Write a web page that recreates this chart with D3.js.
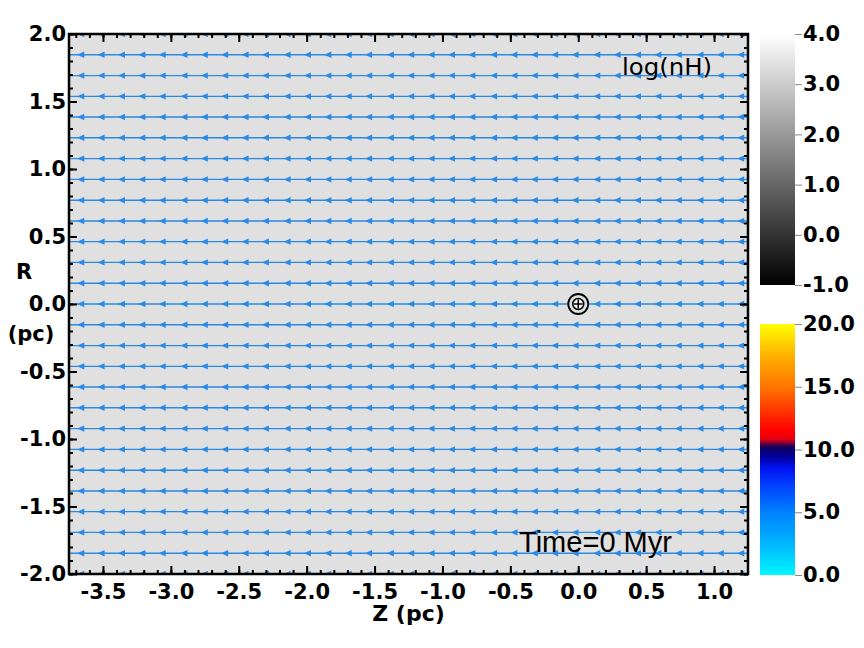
<!DOCTYPE html>
<html>
<head>
<meta charset="utf-8">
<script src="https://cdn.jsdelivr.net/npm/d3@7"></script>
<style>
  html, body { margin: 0; padding: 0; background: #ffffff; }
  svg { display: block; }
</style>
</head>
<body>
<svg id="chart" width="864" height="648"></svg>
<script>
// ---------------- data ----------------
const xDomain = [-3.75, 1.25];
const yDomain = [-2.0, 2.0];
const xTicks = [-3.5, -3.0, -2.5, -2.0, -1.5, -1.0, -0.5, 0.0, 0.5, 1.0];
const xTickLabels = ["-3.5", "-3.0", "-2.5", "-2.0", "-1.5", "-1.0", "-0.5", "0.0", "0.5", "1.0"];
const yTicks = [-2.0, -1.5, -1.0, -0.5, 0.0, 0.5, 1.0, 1.5, 2.0];
const yTickLabels = ["-2.0", "-1.5", "-1.0", "-0.5", "0.0", "0.5", "1.0", "1.5", "2.0"];
// streamline heights (R, pc)
const streamR = [-2.000, -1.846, -1.692, -1.538, -1.385, -1.231, -1.077, -0.923, -0.769,
                 -0.615, -0.462, -0.308, -0.154, 0.000, 0.154, 0.308, 0.462, 0.615,
                 0.769, 0.923, 1.077, 1.231, 1.385, 1.538, 1.692, 1.846, 2.000];
// arrow head positions along each streamline (Z, pc)
const arrowZ = [1.20, 1.05, 0.90, 0.74, 0.59, 0.44, 0.29, 0.14, -0.02, -0.17, -0.32,
                -0.47, -0.62, -0.78, -0.93, -1.08, -1.23, -1.38, -1.54, -1.69, -1.84,
                -1.99, -2.14, -2.30, -2.45, -2.60, -2.75, -2.90, -3.06, -3.21, -3.36,
                -3.51, -3.66];
const sourcePos = [0.0, 0.0];
const densityDomain = [-1.0, 4.0];
const densityTicks = [4.0, 3.0, 2.0, 1.0, 0.0, -1.0];
const densityTickLabels = ["4.0", "3.0", "2.0", "1.0", "0.0", "-1.0"];
const speedDomain = [0.0, 20.0];
const speedTicks = [20.0, 15.0, 10.0, 5.0, 0.0];
const speedTickLabels = ["20.0", "15.0", "10.0", "5.0", "0.0"];
const speedStops = [0, 3, 5, 7, 8.5, 9.5, 10.2, 10.8, 11.5, 13, 15, 17.5, 20];
const speedColors = ["#00f6ff", "#00aaff", "#0082ff", "#0044ff", "#0012f2", "#000095",
                     "#12005c", "#e00012", "#ff0000", "#ff3300", "#ff7600", "#ffb200", "#ffff00"];
const fieldLabel = "log(nH)";
const timeLabel = "Time=0 Myr";

// ---------------- layout ----------------
const svg = d3.select("#chart");
const L = 69, R = 748, T = 34, B = 574;
const x = d3.scaleLinear().domain(xDomain).range([L, R]);
const y = d3.scaleLinear().domain(yDomain).range([B, T]);
const grayScale = d3.scaleLinear().domain(densityDomain).range(["#000000", "#ffffff"]);
const defs = svg.append("defs");

defs.append("clipPath").attr("id", "plotClip")
  .append("rect").attr("x", L).attr("y", T).attr("width", R - L).attr("height", B - T);

// background field
svg.append("rect").attr("x", L).attr("y", T).attr("width", R - L).attr("height", B - T)
  .attr("fill", "#e0e0e0");

// streamlines
const blue = "#2a8ae6";
const g = svg.append("g").attr("clip-path", "url(#plotClip)");
g.selectAll("line.stream").data(streamR).join("line")
  .attr("class", "stream")
  .attr("x1", x(xDomain[0])).attr("x2", x(xDomain[1]))
  .attr("y1", d => y(d)).attr("y2", d => y(d))
  .attr("stroke", blue).attr("stroke-width", 1.4);

const arrowData = [];
streamR.forEach(r => arrowZ.forEach(z => arrowData.push([z, r])));
g.selectAll("path.arrow").data(arrowData).join("path")
  .attr("class", "arrow")
  .attr("d", d => {
    const cx = x(d[0]), cy = y(d[1]);
    return `M${cx - 4},${cy} L${cx + 3},${cy - 3.2} L${cx + 3},${cy + 3.2} Z`;
  })
  .attr("fill", blue);

// source marker
const sx = x(sourcePos[0]), sy = y(sourcePos[1]);
svg.append("circle").attr("cx", sx).attr("cy", sy).attr("r", 10)
  .attr("fill", "#e0e0e0").attr("stroke", "#000").attr("stroke-width", 1.8);
svg.append("circle").attr("cx", sx).attr("cy", sy).attr("r", 5.5)
  .attr("fill", "#f4f4f4").attr("stroke", "#000").attr("stroke-width", 1.5);
svg.append("path").attr("d", `M${sx - 4.5},${sy} H${sx + 4.5} M${sx},${sy - 4.5} V${sy + 4.5}`)
  .attr("stroke", "#000").attr("stroke-width", 1.5);

// ticks (inward, all sides)
const fontBold = "'DejaVu Sans', sans-serif";
function minorTicks(domain) {
  const out = [];
  for (let v = Math.ceil(domain[0] * 10); v <= Math.floor(domain[1] * 10); v++) out.push(v / 10);
  return out;
}
const xMinor = minorTicks(xDomain);
const yMinor = minorTicks(yDomain);

function styleAxis(sel) {
  sel.select(".domain").remove();
  sel.selectAll(".tick line").attr("stroke", "#000").attr("stroke-width", 2);
}
function styleLabels(s, size) {
  s.selectAll("text").attr("font-family", fontBold).attr("font-weight", "bold")
    .attr("font-size", size).attr("fill", "#000");
}

// bottom
svg.append("g").attr("transform", `translate(0,${B})`)
  .call(d3.axisBottom(x).tickValues(xMinor).tickSizeInner(-4).tickFormat(""))
  .call(styleAxis);
svg.append("g").attr("transform", `translate(0,${B})`)
  .call(d3.axisBottom(x).tickValues(xTicks).tickSizeInner(-8).tickPadding(10)
    .tickFormat((d, i) => xTickLabels[i]))
  .call(styleAxis)
  .call(s => styleLabels(s, 21));
// top
svg.append("g").attr("transform", `translate(0,${T})`)
  .call(d3.axisTop(x).tickValues(xMinor).tickSizeInner(-4).tickFormat(""))
  .call(styleAxis);
svg.append("g").attr("transform", `translate(0,${T})`)
  .call(d3.axisTop(x).tickValues(xTicks).tickSizeInner(-8).tickFormat(""))
  .call(styleAxis);
// left
svg.append("g").attr("transform", `translate(${L},0)`)
  .call(d3.axisLeft(y).tickValues(yMinor).tickSizeInner(-4).tickFormat(""))
  .call(styleAxis);
svg.append("g").attr("transform", `translate(${L},0)`)
  .call(d3.axisLeft(y).tickValues(yTicks).tickSizeInner(-8).tickPadding(3)
    .tickFormat((d, i) => yTickLabels[i]))
  .call(styleAxis)
  .call(s => styleLabels(s, 21));
// right
svg.append("g").attr("transform", `translate(${R},0)`)
  .call(d3.axisRight(y).tickValues(yMinor).tickSizeInner(-4).tickFormat(""))
  .call(styleAxis);
svg.append("g").attr("transform", `translate(${R},0)`)
  .call(d3.axisRight(y).tickValues(yTicks).tickSizeInner(-8).tickFormat(""))
  .call(styleAxis);

// frame
svg.append("rect").attr("x", L).attr("y", T).attr("width", R - L).attr("height", B - T)
  .attr("fill", "none").attr("stroke", "#000").attr("stroke-width", 2.5);

// axis titles
svg.append("text").attr("x", (L + R) / 2).attr("y", 621).attr("text-anchor", "middle")
  .attr("font-family", fontBold).attr("font-weight", "bold").attr("font-size", 22)
  .text("Z (pc)");
svg.append("text").attr("x", 24).attr("y", 279).attr("text-anchor", "middle")
  .attr("font-family", fontBold).attr("font-weight", "bold").attr("font-size", 21)
  .text("R");
svg.append("text").attr("x", 31).attr("y", 341).attr("text-anchor", "middle")
  .attr("font-family", fontBold).attr("font-weight", "bold").attr("font-size", 21)
  .text("(pc)");

// in-plot labels
svg.append("text").attr("x", 622).attr("y", 75)
  .attr("font-family", "'DejaVu Sans', sans-serif").attr("font-size", 23)
  .attr("textLength", 90).attr("lengthAdjust", "spacingAndGlyphs")
  .text(fieldLabel);
svg.append("text").attr("x", 519).attr("y", 552)
  .attr("font-family", "'Liberation Sans', sans-serif").attr("font-size", 30)
  .attr("textLength", 153).attr("lengthAdjust", "spacingAndGlyphs")
  .text(timeLabel);

// ---------------- colorbars ----------------
const cbX = 760, cbW = 35;
// density colorbar
const yd = d3.scaleLinear().domain(densityDomain).range([285, 34]);
const gradGray = defs.append("linearGradient").attr("id", "gradGray")
  .attr("x1", 0).attr("y1", 1).attr("x2", 0).attr("y2", 0);
gradGray.selectAll("stop").data(densityDomain).join("stop")
  .attr("offset", (d, i) => i)
  .attr("stop-color", d => grayScale(d));
svg.append("rect").attr("x", cbX).attr("y", yd(densityDomain[1])).attr("width", cbW)
  .attr("height", yd(densityDomain[0]) - yd(densityDomain[1])).attr("fill", "url(#gradGray)");
svg.append("g").attr("transform", `translate(${cbX + cbW},0)`)
  .call(d3.axisRight(yd).tickValues(densityTicks).tickSizeInner(7).tickPadding(1)
    .tickFormat((d, i) => densityTickLabels[i]))
  .call(s => s.select(".domain").remove())
  .call(s => s.selectAll(".tick line").attr("stroke", "#888").attr("stroke-width", 1))
  .call(s => styleLabels(s, 21));

// speed colorbar
const ys = d3.scaleLinear().domain(speedDomain).range([575, 324]);
const gradSpeed = defs.append("linearGradient").attr("id", "gradSpeed")
  .attr("x1", 0).attr("y1", 1).attr("x2", 0).attr("y2", 0);
gradSpeed.selectAll("stop").data(speedStops).join("stop")
  .attr("offset", d => (d - speedDomain[0]) / (speedDomain[1] - speedDomain[0]))
  .attr("stop-color", (d, i) => speedColors[i]);
svg.append("rect").attr("x", cbX).attr("y", ys(speedDomain[1])).attr("width", cbW)
  .attr("height", ys(speedDomain[0]) - ys(speedDomain[1])).attr("fill", "url(#gradSpeed)");
svg.append("g").attr("transform", `translate(${cbX + cbW},0)`)
  .call(d3.axisRight(ys).tickValues(speedTicks).tickSizeInner(7).tickPadding(1)
    .tickFormat((d, i) => speedTickLabels[i]))
  .call(s => s.select(".domain").remove())
  .call(s => s.selectAll(".tick line").attr("stroke", "#888").attr("stroke-width", 1))
  .call(s => styleLabels(s, 21));
</script>
</body>
</html>
